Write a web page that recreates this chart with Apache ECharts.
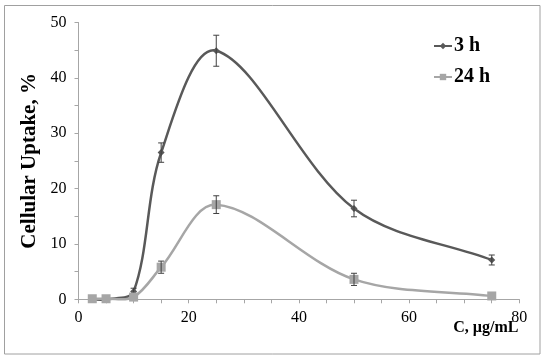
<!DOCTYPE html>
<html>
<head>
<meta charset="utf-8">
<script src="https://cdn.jsdelivr.net/npm/echarts@6/dist/echarts.min.js"></script>
<style>html,body{margin:0;padding:0;background:#fff;}#c{width:550px;height:362px;}</style>
</head>
<body>
<div id="c"></div>
<script>
const xValues = [2.5, 5, 10, 15, 25, 50, 75];
const uptake3h = [0, 0, 1.4, 26.5, 44.9, 16.4, 7.1];
const err3h = [0, 0, 0.6, 1.75, 2.8, 1.5, 0.9];
const uptake24h = [0.1, 0.1, 0.4, 5.8, 17.1, 3.6, 0.6];
const err24h = [0, 0, 0, 1.1, 1.6, 1.1, 0];
const xTicks = [0, 20, 40, 60, 80];
const yTicks = [0, 10, 20, 30, 40, 50];

const FONT = "'Liberation Serif', 'Times New Roman', serif";
const C3 = '#595959', C24 = '#a6a6a6';

function pairs(xs, ys) { return xs.map((x, i) => [x, ys[i]]); }
function errData(xs, ys, es) { return xs.map((x, i) => [x, ys[i] - es[i], ys[i] + es[i]]).filter((d, i) => es[i] > 0); }

function errRender(color) {
  return function (params, api) {
    const x = api.value(0);
    const lo = api.coord([x, api.value(1)]);
    const hi = api.coord([x, api.value(2)]);
    const w = 3;
    const style = { stroke: color, lineWidth: 1 };
    return {
      type: 'group',
      children: [
        { type: 'line', shape: { x1: lo[0], y1: lo[1], x2: hi[0], y2: hi[1] }, style },
        { type: 'line', shape: { x1: lo[0] - w, y1: lo[1], x2: lo[0] + w, y2: lo[1] }, style },
        { type: 'line', shape: { x1: hi[0] - w, y1: hi[1], x2: hi[0] + w, y2: hi[1] }, style }
      ]
    };
  };
}

// Smooth curve segment between data point i and i+1 (length-weighted tangents), in pixel space
function curveRender(xs, ys, color) {
  return function (params, api) {
    const i = params.dataIndex;
    const n = xs.length;
    if (i >= n - 1) return null;
    const P = k => api.coord([xs[Math.max(0, Math.min(n - 1, k))], ys[Math.max(0, Math.min(n - 1, k))]]);
    const d = (a, b) => Math.hypot(b[0] - a[0], b[1] - a[1]);
    const p0 = P(i - 1), p1 = P(i), p2 = P(i + 1), p3 = P(i + 2);
    const s = 1 / 3;
    const d01 = d(p0, p1), d12 = d(p1, p2), d23 = d(p2, p3);
    const f1 = (d01 + d12) > 0 ? d12 / (d01 + d12) * s : 0;
    const f2 = (d12 + d23) > 0 ? d12 / (d12 + d23) * s : 0;
    const c1 = [p1[0] + (p2[0] - p0[0]) * f1, p1[1] + (p2[1] - p0[1]) * f1];
    const c2 = [p2[0] - (p3[0] - p1[0]) * f2, p2[1] - (p3[1] - p1[1]) * f2];
    return {
      type: 'bezierCurve',
      shape: { x1: p1[0], y1: p1[1], x2: p2[0], y2: p2[1], cpx1: c1[0], cpy1: c1[1], cpx2: c2[0], cpy2: c2[1] },
      style: { stroke: color, lineWidth: 2.5, fill: 'none', lineCap: 'round' }
    };
  };
}

const chart = echarts.init(document.getElementById('c'), null, { renderer: 'canvas' });
chart.setOption({
  animation: false,
  backgroundColor: '#fff',
  graphic: [{
    type: 'rect', shape: { x: 4.5, y: 5.5, width: 535.5, height: 348.5 },
    style: { fill: 'none', stroke: '#a0a0a0', lineWidth: 1 }, silent: true, z: -1
  }],
  grid: { left: 78.5, right: 30.7, top: 22.5, bottom: 62.7, containLabel: false, outerBoundsMode: 'none' },
  legend: {
    orient: 'vertical', left: 428, top: 31, itemGap: 11, itemWidth: 18, itemHeight: 8,
    textStyle: { fontFamily: FONT, fontWeight: 'bold', fontSize: 20, color: '#000', padding: [0, 0, 0, -3] },
    data: [
      { name: '3 h', lineStyle: { color: C3, width: 2, opacity: 1 } },
      { name: '24 h', lineStyle: { color: C24, width: 2, opacity: 1 } }
    ]
  },
  xAxis: {
    type: 'value', min: 0, max: 80, interval: 20,
    name: 'C, µg/mL', nameLocation: 'end', nameGap: -66, nameMoveOverlap: false,
    nameTextStyle: { fontFamily: FONT, fontWeight: 'bold', fontSize: 16, color: '#000', verticalAlign: 'top', padding: [21, 0, 0, 0] },
    axisLine: { show: true, lineStyle: { color: '#a6a6a6', width: 1 } },
    axisTick: { show: true, length: 4, lineStyle: { color: '#a6a6a6' } },
    minorTick: { show: true, splitNumber: 4, length: 4, lineStyle: { color: '#a6a6a6' } },
    splitLine: { show: false },
    axisLabel: { fontFamily: FONT, fontSize: 16, color: '#000', margin: 10,
      formatter: v => xTicks.includes(v) ? String(v) : '' }
  },
  yAxis: {
    type: 'value', min: 0, max: 50, interval: 10,
    name: 'Cellular Uptake, %', nameLocation: 'middle', nameGap: 34,
    nameTextStyle: { fontFamily: FONT, fontWeight: 'bold', fontSize: 21, color: '#000' },
    axisLine: { show: true, lineStyle: { color: '#a6a6a6', width: 1 } },
    axisTick: { show: true, length: 4, lineStyle: { color: '#a6a6a6' } },
    minorTick: { show: true, splitNumber: 2, length: 4, lineStyle: { color: '#a6a6a6' } },
    splitLine: { show: false },
    axisLabel: { fontFamily: FONT, fontSize: 16, color: '#000', margin: 12,
      formatter: v => yTicks.includes(v) ? String(v) : '' }
  },
  series: [
    {
      type: 'custom', renderItem: curveRender(xValues, uptake3h, C3), data: pairs(xValues, uptake3h),
      encode: { x: 0, y: 1 }, z: 1, silent: true, clip: false
    },
    {
      name: '3 h', type: 'line', data: pairs(xValues, uptake3h),
      symbol: 'diamond', symbolSize: 7,
      lineStyle: { color: C3, width: 2, opacity: 0 }, itemStyle: { color: C3 }, z: 2
    },
    {
      type: 'custom', renderItem: errRender('#404040'), data: errData(xValues, uptake3h, err3h),
      encode: { x: 0, y: [1, 2] }, z: 3, silent: true
    },
    {
      type: 'custom', renderItem: curveRender(xValues, uptake24h, C24), data: pairs(xValues, uptake24h),
      encode: { x: 0, y: 1 }, z: 4, silent: true, clip: false
    },
    {
      name: '24 h', type: 'line', data: pairs(xValues, uptake24h),
      symbol: 'rect', symbolSize: 9,
      lineStyle: { color: C24, width: 2, opacity: 0 }, itemStyle: { color: C24 }, z: 5
    },
    {
      type: 'custom', renderItem: errRender('#404040'), data: errData(xValues, uptake24h, err24h),
      encode: { x: 0, y: [1, 2] }, z: 6, silent: true
    }
  ]
});
</script>
</body>
</html>
